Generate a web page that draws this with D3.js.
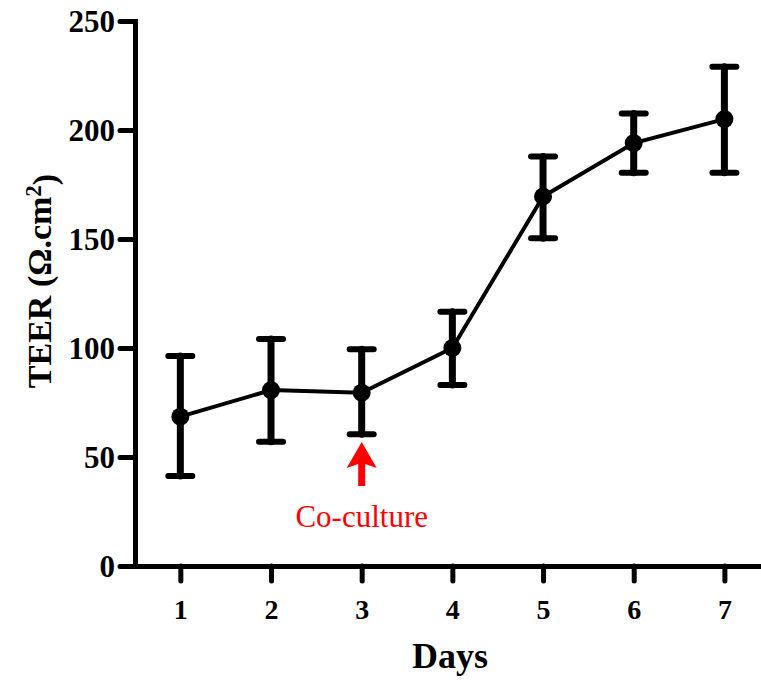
<!DOCTYPE html>
<html>
<head>
<meta charset="utf-8">
<script src="https://cdn.jsdelivr.net/npm/d3@7"></script>
<style>
  html, body { margin: 0; padding: 0; background: #fff; }
  svg { display: block; }
  text { font-family: "Liberation Serif", "Times New Roman", serif; }
</style>
</head>
<body>
<svg id="chart" width="761" height="681"></svg>
<script>
// TEER measurements per day (mean with lower / upper error bounds)
const days = [1, 2, 3, 4, 5, 6, 7];
const teerMean = [68.5, 80.7, 79.5, 100, 169.5, 194, 205];
const errLow = [41.3, 57, 60.4, 83, 150.3, 180.4, 180.4];
const errHigh = [96.3, 104.1, 99.4, 116.6, 187.8, 207.6, 229];
const yTicks = [0, 50, 100, 150, 200, 250];
const xTicks = [1, 2, 3, 4, 5, 6, 7];
const coCultureDay = 3;

const svg = d3.select("#chart");

const x = d3.scaleLinear().domain([0.5, 7.9]).range([135, 806]);
const y = d3.scaleLinear().domain([0, 250]).range([566, 21]);

// Axes
const yAxis = d3.axisLeft(y).tickValues(yTicks).tickSize(15).tickSizeOuter(0).tickPadding(5);
const gy = svg.append("g").attr("transform", `translate(${x(0.5)},0)`).call(yAxis);

const xAxis = d3.axisBottom(x).tickValues(xTicks).tickSize(15).tickSizeOuter(0).tickPadding(18);
const gx = svg.append("g").attr("transform", `translate(0,${y(0)})`).call(xAxis);

[gx, gy].forEach(g => {
  g.select(".domain").attr("stroke", "#000").attr("stroke-width", 5);
  g.selectAll(".tick line").attr("stroke", "#000").attr("stroke-width", 5).attr("stroke-linecap", "round");
  g.selectAll(".tick text")
    .attr("fill", "#000")
    .style("font-family", "'Liberation Serif', 'Times New Roman', serif")
    .style("font-weight", "bold");
});
gy.selectAll(".tick text").style("font-size", "31px").attr("dy", "0.34em");
gx.selectAll(".tick text").style("font-size", "28px");
gy.select(".domain").attr("stroke-linecap", "square");

// Mean line
const line = d3.line().x((d, i) => x(days[i])).y(d => y(d));
svg.append("path")
  .datum(teerMean)
  .attr("d", line)
  .attr("fill", "none")
  .attr("stroke", "#000")
  .attr("stroke-width", 4);

// Error bars
const capHalf = 12;
const eb = svg.append("g").attr("stroke", "#000").attr("stroke-linecap", "round");
days.forEach((d, i) => {
  const cx = x(d);
  eb.append("line").attr("x1", cx).attr("x2", cx)
    .attr("y1", y(errLow[i])).attr("y2", y(errHigh[i])).attr("stroke-width", 7);
  [errLow[i], errHigh[i]].forEach(v => {
    eb.append("line").attr("x1", cx - capHalf).attr("x2", cx + capHalf)
      .attr("y1", y(v)).attr("y2", y(v)).attr("stroke-width", 6);
  });
});

// Markers
svg.append("g").selectAll("circle")
  .data(teerMean)
  .join("circle")
  .attr("cx", (d, i) => x(days[i]))
  .attr("cy", d => y(d))
  .attr("r", 9)
  .attr("fill", "#000");

// Co-culture arrow and note
const ax = x(coCultureDay);
const arrowTop = 442, headBase = 468, arrowBottom = 486;
svg.append("path")
  .attr("d", `M${ax},${arrowTop} L${ax + 15},${headBase} L${ax + 3.5},${headBase - 4} L${ax + 3.5},${arrowBottom} L${ax - 3.5},${arrowBottom} L${ax - 3.5},${headBase - 4} L${ax - 15},${headBase} Z`)
  .attr("fill", "#ff0000");
svg.append("text")
  .attr("x", ax)
  .attr("y", 527)
  .attr("text-anchor", "middle")
  .attr("fill", "#ff0000")
  .style("font-size", "31px")
  .text("Co-culture");

// Axis titles
svg.append("text")
  .attr("x", 450)
  .attr("y", 668)
  .attr("text-anchor", "middle")
  .style("font-weight", "bold")
  .style("font-size", "36px")
  .text("Days");

const yTitle = svg.append("text")
  .attr("transform", "translate(51,281) rotate(-90)")
  .attr("text-anchor", "middle")
  .style("font-weight", "bold")
  .style("font-size", "34px");
yTitle.append("tspan").text("TEER (\u03A9.cm");
yTitle.append("tspan").attr("dy", "-0.45em").style("font-size", "23px").text("2");
yTitle.append("tspan").attr("dy", "0.45em").text(")");
</script>
</body>
</html>
